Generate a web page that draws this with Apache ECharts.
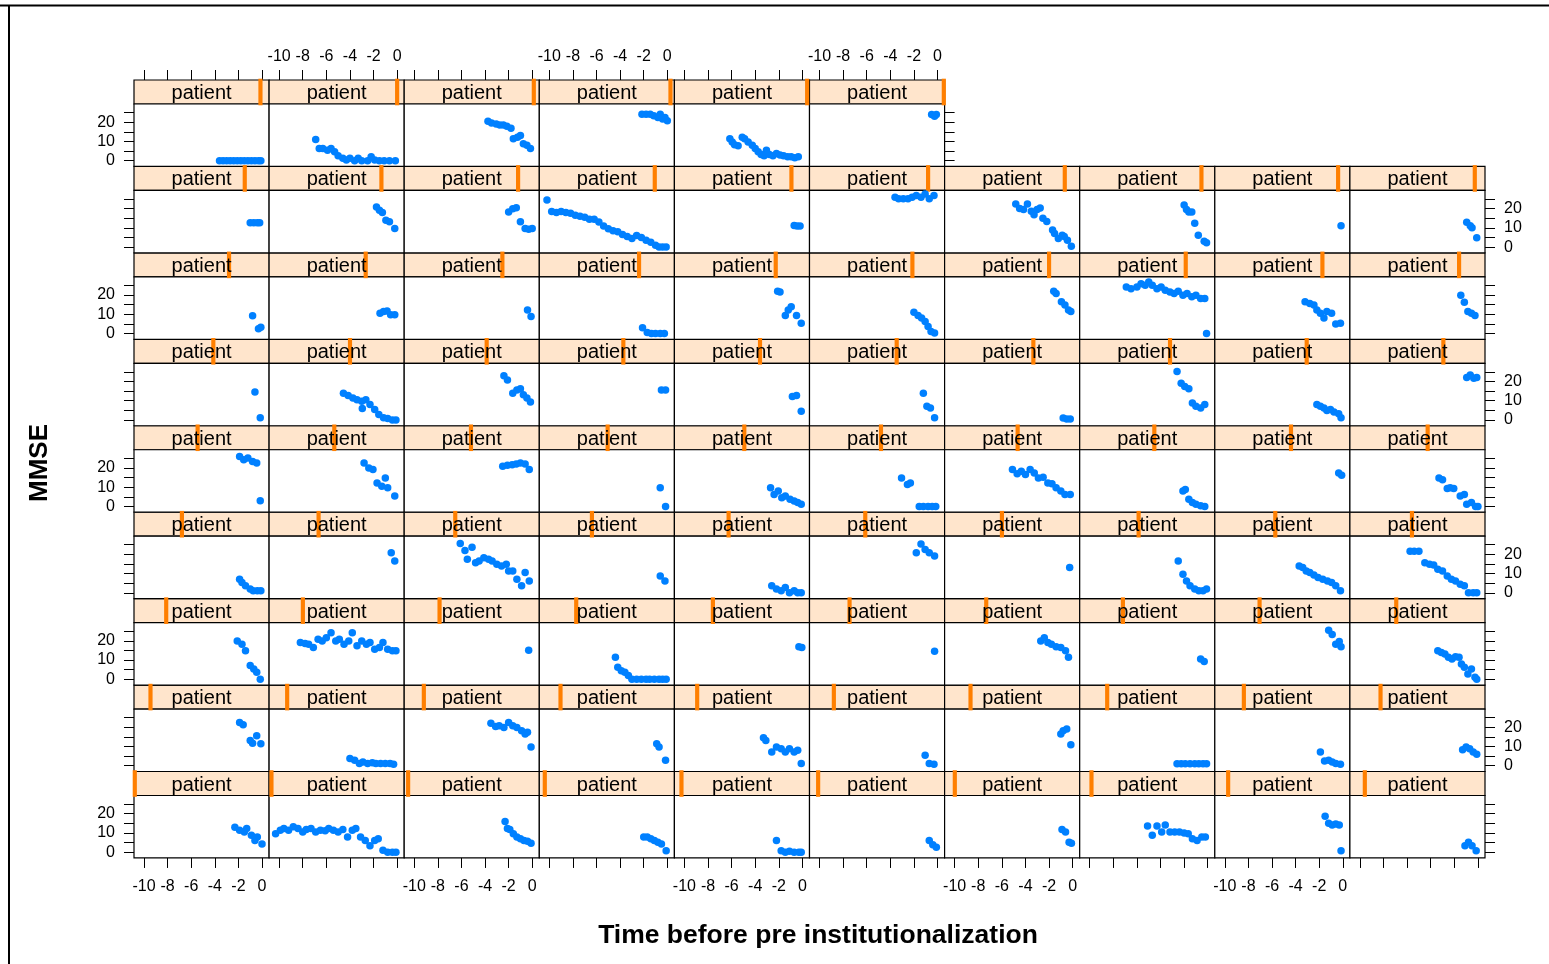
<!DOCTYPE html>
<html>
<head>
<meta charset="utf-8">
<script src="https://cdn.jsdelivr.net/npm/echarts@6/dist/echarts.min.js"></script>
<style>
html,body{margin:0;padding:0;background:#fff;}
#chart{width:1549px;height:964px;}
</style>
</head>
<body>
<div id="chart"></div>
<script>
// ---- data: one entry per patient level (1..86), lattice order (bottom-left first) ----
const timeByPatient = [
 [-2.3,-1.9,-1.5,-1.3,-0.9,-0.6,-0.4,0.0],
 [-10.3,-9.9,-9.6,-9.2,-8.8,-8.4,-8.0,-7.7,-7.3,-6.9,-6.5,-6.1,-5.8,-5.4,-5.0,-4.6,-4.2,-3.8,-3.5,-3.1,-2.7,-2.3,-1.9,-1.6,-1.2,-0.8,-0.4,-0.1],
 [-2.3,-2.1,-1.9,-1.6,-1.3,-1.0,-0.7,-0.4,-0.1],
 [-2.0,-1.7,-1.4,-1.1,-0.8,-0.5,-0.1],
 [-2.2,-1.8,-1.45,-1.1,-0.7,-0.3,-0.1],
 [-0.7,-0.4,-0.1],
 [-0.9,-0.6,-0.3,-0.1],
 [-5.1,-4.7,-4.3,-3.9,-3.6,-3.2,-2.8,-2.4,-2.0,-1.65,-1.3,-0.9,-0.5,-0.2],
 [-1.5,-1.2,-0.9,-0.6,-0.3,-0.15],
 [-1.1,-0.8,-0.5,-0.15],
 [-1.9,-1.6,-1.0,-0.8,-0.45,-0.1],
 [-4.0,-3.6,-3.2,-2.9,-2.5,-2.1,-1.8,-1.4,-1.0,-0.6,-0.3],
 [-3.5,-3.1,-2.8,-2.4,-2.0,-1.65,-1.3,-0.9,-0.6,-0.4,-0.1],
 [-0.9,-0.7,-0.15],
 [-3.3,-3.1,-2.6,-2.2,-1.8,-1.45,-1.1,-0.7,-0.4,-0.1],
 [-1.05,-0.7,-0.3],
 [-1.0,-0.8,-0.5,-0.15],
 [-2.6,-2.25,-1.9,-1.5,-1.1,-0.75,-0.4,-0.1],
 [-1.9,-1.55,-1.2,-0.9,-0.6,-0.2],
 [-1.3,-1.0,-0.7,-0.4,-0.1],
 [-2.1,-1.7,-1.4,-1.0,-0.7,-0.45,-0.15],
 [-8.2,-7.8,-7.5,-7.1,-6.7,-6.35,-6.0,-5.6,-5.2,-4.9,-4.5,-4.1,-3.8,-3.4,-3.0,-2.6,-2.3,-1.9,-1.5,-1.2,-0.8,-0.4,-0.1],
 [-0.3],
 [-4.4,-4.2,-3.9,-3.6,-3.3,-3.0,-2.6,-2.2,-1.8,-1.5,-1.1,-0.7,-0.4,-0.1],
 [-0.3,-0.05],
 [-0.25],
 [-2.7,-2.4,-2.1,-1.8,-1.4,-1.0,-0.6,-0.35],
 [-0.6,-0.3],
 [-1.2,-0.9,-0.6,-0.3,-0.15],
 [-3.4,-3.1,-2.8,-2.5,-2.2,-1.9,-1.6,-1.4,-1.15,-0.85,-0.55,-0.25,-0.1],
 [-1.9,-1.7,-1.4,-1.0,-0.75,-0.4,-0.1],
 [-0.5,-0.2],
 [-6.1,-5.7,-5.5,-5.1,-4.8,-4.5,-4.1,-3.7,-3.4,-3.0,-2.6,-2.2,-2.0,-1.65,-1.3,-0.9,-0.6,-0.25],
 [-0.6,-0.2],
 [-2.6,-2.2,-1.8,-1.45,-1.1,-0.7,-0.4,-0.1],
 [-1.8,-1.4,-1.05,-0.7,-0.25],
 [-0.25],
 [-2.5,-2.1,-1.8,-1.5,-1.1,-0.75,-0.4,-0.1],
 [-3.7,-3.4,-3.1,-2.8,-2.45,-2.1,-1.7,-1.3,-0.95,-0.6,-0.2],
 [-5.75,-5.4,-5.0,-4.5,-4.1,-3.75,-3.4,-3.0,-2.6,-2.25,-1.9,-1.5,-1.15,-0.8,-0.4,-0.1],
 [-1.9,-1.55,-1.2,-0.8,-0.45,-0.15],
 [-2.8,-2.4,-2.05,-1.7,-1.3,-1.0,-0.8,-0.2],
 [-2.5,-2.1,-1.7,-1.35,-1.0,-0.6,-0.25],
 [-0.6,-0.15],
 [-2.7,-2.4,-2.05,-1.75,-1.45,-1.05,-0.7,-0.4,-0.1],
 [-3.05,-2.55,-2.3,-1.55,-1.2,-0.8,-0.45,-0.15],
 [-5.1,-4.7,-4.35,-4.0,-3.6,-3.25,-2.9,-2.5,-2.1,-1.75,-1.4,-1.0,-0.65,-0.2],
 [-2.1,-1.9,-1.6,-1.3,-1.0,-0.6,-0.25],
 [-0.35,-0.1],
 [-3.3,-3.0,-2.6,-2.35,-2.05,-1.5,-1.15,-0.95,-0.55,-0.2,0.0],
 [-0.6,-0.15],
 [-4.55,-4.15,-3.75,-3.4,-3.0,-2.95,-2.65,-2.3,-1.9,-1.55,-1.15,-0.8,-0.4,-0.1],
 [-2.4,-2.1,-1.65,-1.3,-1.0,-0.75,-0.45,-0.15],
 [-0.5,-0.15],
 [-0.85,-0.5,-0.1],
 [-1.2,-0.9,-0.6,-0.25],
 [-0.8,-0.5,-0.2],
 [-2.6,-2.25,-1.95,-1.6,-1.3,-1.0,-0.6,-0.25],
 [-2.2,-1.9,-1.6,-1.35,-1.05,-0.75,-0.35,-0.15],
 [-0.95,-0.65,-0.35,-0.1],
 [-0.8,-0.3,-0.1],
 [-1.45,-1.15,-0.85,-0.55,-0.2],
 [-0.4,-0.1],
 [-2.1,-1.7,-1.35,-1.0,-0.6,-0.25],
 [-2.1,-1.9,-1.45,-1.2,-0.95,-0.5,-0.1],
 [-2.0,-1.65,-1.35,-1.05,-0.8,-0.55,-0.25],
 [-1.6,-1.4,-0.95,-0.65,-0.35,-0.15],
 [-6.9,-6.5,-6.0,-5.65,-5.3,-5.0,-4.7,-4.3,-3.95,-3.6,-3.2,-2.85,-2.5,-2.1,-1.75,-1.35,-1.0,-0.6,-0.25,-0.1],
 [-3.2,-2.8,-2.45,-2.2,-1.9,-1.6,-1.35,-0.95,-0.6,-0.2],
 [-1.45,-1.15,-0.85,-0.55,-0.25],
 [-1.0,-0.7,-0.4,-0.2],
 [-1.75,-1.5,-1.25,-0.95,-0.65,-0.2],
 [-2.0,-1.65,-1.35,-1.0,-0.6,-0.3,0.0],
 [-10.2,-9.8,-9.4,-9.0,-8.6,-8.2,-7.8,-7.4,-7.0,-6.6,-6.2,-5.8,-5.4,-5.0,-4.6,-4.2,-3.8,-3.4,-3.0,-2.6,-2.2,-1.8,-1.4,-1.0,-0.7,-0.4,-0.1],
 [-0.7,-0.45,-0.2],
 [-3.6,-3.3,-2.9,-2.5,-2.15,-1.8,-1.4,-1.05,-0.7,-0.3],
 [-4.82,-4.49,-4.16,-3.83,-3.5,-3.27,-3.01,-2.75,-2.52,-2.19,-1.7,-1.53,-1.21,-0.88,-0.71,-0.44,-0.11],
 [-2.0,-1.8,-1.6,-1.35,-1.1,-0.8,-0.3,-0.1],
 [-0.15],
 [-0.95,-0.65,-0.5,-0.1],
 [-3.6,-3.3,-3.0,-2.7,-2.4,-2.1,-1.8,-1.5,-1.2,-0.9,-0.6,-0.3,-0.1],
 [-6.9,-6.6,-6.3,-5.9,-5.6,-5.3,-5.0,-4.6,-4.3,-4.0,-3.6,-3.3,-3.0,-2.5,-2.2,-1.9,-1.5,-1.1,-0.65,-0.15],
 [-3.75,-3.45,-3.05,-2.75,-2.45,-2.15,-1.8,-1.6,-1.25,-1.0,-0.75,-0.45,-0.15],
 [-2.15,-1.8,-1.45,-1.15,-0.8,-0.6,-0.4,-0.2,0.0],
 [-6.15,-5.95,-5.75,-5.45,-5.1,-4.9,-4.6,-4.25,-4.0,-3.75,-3.5,-3.25,-3.05,-2.8,-2.5,-2.2,-1.9,-1.6,-1.25,-0.95,-0.65,-0.35],
 [-0.5,-0.25,-0.1]
];
const mmseByPatient = [
 [12.9,11.4,10.5,12.3,8.8,6.1,7.9,4.3],
 [9.6,11.4,12.3,11.4,13.2,12.3,10.5,11.8,12.3,10.5,11.4,11.1,12.3,11.4,10.5,11.8,7.9,11.4,12.3,7.9,6.1,3.4,6.1,7.0,1,0,0,0],
 [15.9,12.3,11.8,9.6,7.9,7.0,6.1,5.7,4.6],
 [7.9,7.9,7.0,6.1,5.2,4.3,0.7],
 [6.1,0.7,0,0.5,0,0,0],
 [6.1,3.9,2.5],
 [11.8,10.5,5.2,4.6],
 [13.6,8.8,13.6,10.5,14.1,10.5,10.5,10.5,10.0,9.6,7.0,6.1,7.9,7.9],
 [18.6,15.0,14.1,14.6,14.1,0.7],
 [3.4,5.2,3.4,0.7],
 [22.5,21.3,13.1,11.7,15.6,11.4],
 [3.7,2.8,1.1,2.0,1.1,1.5,1.1,1.1,1.1,1.1,0.8],
 [22,20.3,20.8,19.9,22.5,20.8,19.9,18.2,16.5,17.4,9.7],
 [11.4,9.7,2.8],
 [14.5,13.1,7.1,9.7,8.8,7.1,8.8,7.1,8.0,1.1],
 [5.4,1.1,0.8],
 [16.5,18.2,19.1,10.9],
 [1,1,1,1,1,1,1,1],
 [7.1,2.5,2.8,2.0,1.1,0.8],
 [8.3,9.7,8.8,7.1,5.9],
 [19.9,18.2,14.8,7.1,5.4,3.7,0],
 [19.1,18.6,18.2,16.5,20.8,19.9,21.6,24.2,19.9,20.8,18.2,19.9,24.2,17.4,19.9,18.2,19.1,15.6,16.5,19.1,15.6,14.8,14.8],
 [15.1],
 [11.4,6.2,4.5,3.7,2.0,0,0,0,0,0,0,0,0,0],
 [16.9,16.5],
 [14.5],
 [19.9,21.6,19.1,18.2,16.9,16.5,14.8,11.4],
 [10.5,9.3],
 [25.4,23.3,18.2,19.6,16.9],
 [14.8,13.9,13.1,11.4,10.5,11.7,11.4,8.0,6.2,2.8,5.4,1.1,0],
 [7.1,5.4,3.7,2.0,1.1,1.1,1.1],
 [20.8,16.5],
 [25.6,22,17.4,23.7,15.6,16.5,18.2,17.4,16.5,14.8,13.9,14.8,11.4,11.4,7.1,3.7,10.5,6.2],
 [8.8,6.2],
 [3.7,2.0,1.1,2.8,0,1.1,0,0],
 [20.8,25.4,22.5,20.8,19.1],
 [13.1],
 [16.5,9.7,6.2,3.7,2.0,1.1,1.1,2.0],
 [13.9,13.1,11.4,10.5,9.3,8.0,7.1,6.2,5.4,3.7,1.1],
 [21.6,21.6,21.6,15.6,14.8,14.5,12.2,11.4,8.8,7.1,6.2,4.5,3.7,0,0,0],
 [25.9,24.2,25.1,23.3,22.5,3.0],
 [22.5,19.9,19.1,12.2,10.5,14.8,9.7,5.4],
 [20.8,21.3,21.6,22,22.5,22,19.1],
 [9.7,0],
 [9.7,6.2,8.0,4.5,5.4,3.7,2.8,2.0,1.1],
 [14.8,11.4,12.2,0,0,0,0,0],
 [19.1,16.9,18.2,16.5,19.1,17.4,14.8,15.1,12.2,11.7,9.7,8.0,6.2,6.2],
 [8.0,8.8,3.7,2.0,1.1,0.3,0],
 [17.4,16.2],
 [14.8,13.9,9.3,9.7,9.3,5.4,6.2,1.1,2.0,0,0],
 [14.5,1.1],
 [13.9,12.7,11.4,10.5,9.7,6.0,10.5,8.0,5.4,2.8,1.1,0.8,0,0],
 [23,20.8,13.9,15.6,16.2,13.1,11.4,9.3],
 [15.6,15.6],
 [12.2,12.7,4.5],
 [13.9,7.1,6.2,1.1],
 [1.0,0.5,0.5],
 [25.1,19.1,17.4,16.2,8.8,7.1,6.2,8.0],
 [8.0,7.1,6.2,4.9,5.4,4.2,3.2,1.1],
 [22,23.3,21.6,22],
 [9.2,2.5,3.2],
 [10.5,11.4,11.7,9.7,9.7],
 [12.2,8.8],
 [3.0,0.5,0,0,0,0],
 [22,21.6,9.3,12.2,13.9,9.3,5.4],
 [11,9.3,8.0,6.2,3.7,1.1,0.3],
 [22,20.8,16.5,14.8,12.2,11.4],
 [24.2,23.3,24.2,25.9,25.1,26.8,25.1,23.3,24.2,22.5,21.6,20.8,22.0,19.9,20.8,19.1,19.9,18.2,18.2,0],
 [16.5,15.6,14.8,12.2,10.5,8.0,11.4,10.5,4.9,5.4],
 [19.9,16.2,11.4,10.5,9.3],
 [12.6,12.6,12.6,12.6],
 [20.8,19.1,17.9,13.9,13.1,9.7],
 [18.2,19.9,20.4,13.1,9.7,9.2,9.7],
 [24.5,18.5,18,18.5,18,17.5,16.5,16,15.5,14.5,14.5,13,11,9.5,8.5,8,6.5,5.5,4.5,6,5,3.5,2.5,1,0,0,0],
 [11.2,10.9,10.9],
 [25.9,25.1,25.1,25.1,25.9,26.8,25.9,27.6,25.1,26.8],
 [22.4,20,19.5,22.4,18.6,16.8,19.5,20.3,15,13.3,8.9,7.1,4.4,6.2,5.5,3.6,0.5],
 [21.8,19.5,18.2,18.2,12.4,6.2,3.0,2.3],
 [11.1],
 [12.9,11.1,10.1,4.8],
 [0,0,0,0,0,0,0,0,0,0,0,0,0],
 [11,6.3,6.3,5.4,6.3,4.6,2.6,1.2,0.3,1.2,0,1.2,0,0,2,0.3,0,0,0,0],
 [20.4,19.6,19,18.5,18.5,17.9,16.8,11.4,12.2,13.1,8.8,8,6.3],
 [24.1,24.1,24.1,23.3,22.4,24.1,21.6,22.4,20.7],
 [11.4,9.7,8.3,7.7,12.2,11.4,9.7,8,6.3,4.6,3.2,2.6,5.4,3.2,2.6,3.7,2.9,2.6,2,2,1.5,2],
 [24,23,24]
];
const stripLabel = 'patient';
const xTickValues = [-10, -8, -6, -4, -2, 0];
const yTickValues = [0, 5, 10, 15, 20, 25];
const yLabelValues = [0, 10, 20];
const xTitle = 'Time before pre institutionalization';
const yTitle = 'MMSE';

// ---- layout ----
const XMIN = -10.85, XMAX = 0.6, YMIN = -3.0, YMAX = 29.4;
const LEFT0 = 134, COLW = 135.1, TOP0 = 80, ROWH = 86.44, STRIPH = 24;
const NLEV = timeByPatient.length;
const FONT = '"Liberation Sans", Arial, Helvetica, sans-serif';
const tickStyle = {color: '#000', width: 1};
const labelStyle = {color: '#000', fontSize: 16, fontFamily: FONT};
const noLine = {show: false, onZero: false};

const grids = [], xAxes = [], yAxes = [], series = [], graphics = [];

for (let i = 0; i < NLEV; i++) {
  const rb = Math.floor(i / 10), col = i % 10, r = 8 - rb;
  const lastCol = rb === 8 ? 5 : 9;
  const left = LEFT0 + col * COLW;
  const stripTop = TOP0 + r * ROWH;
  const panelTop = stripTop + STRIPH;
  const panelH = ROWH - STRIPH;

  // strip grid
  const sg = grids.length;
  grids.push({left: left, top: stripTop, width: COLW, height: STRIPH, show: true,
    backgroundColor: '#ffe5cc', borderColor: '#000', borderWidth: 1.2, outerBoundsMode: 'none'});
  const sx = xAxes.length;
  xAxes.push({gridIndex: sg, type: 'value', min: 0, max: NLEV, show: false, position: 'bottom', axisLine: noLine});
  const sy = yAxes.length;
  yAxes.push({gridIndex: sg, type: 'value', min: 0, max: 1, show: false, axisLine: noLine});
  if (rb === 8) {
    xAxes.push({gridIndex: sg, type: 'value', min: XMIN, max: XMAX, position: 'top',
      axisLine: noLine,
      axisTick: {show: true, inside: false, length: 10, customValues: xTickValues, lineStyle: tickStyle},
      axisLabel: Object.assign({show: col % 2 === 1, margin: 15, customValues: xTickValues}, labelStyle),
      splitLine: {show: false}});
  }
  series.push({type: 'custom', xAxisIndex: sx, yAxisIndex: sy, silent: true, z: 3,
    data: [[i, i + 1]],
    renderItem: function (params, api) {
      const a = api.coord([api.value(0), 1]);
      const b = api.coord([api.value(1), 0]);
      return {type: 'rect', shape: {x: a[0], y: a[1], width: b[0] - a[0], height: b[1] - a[1]},
        style: {fill: '#ff7f00', stroke: '#ff7f00', lineWidth: 2.6}};
    }});
  graphics.push({type: 'text', x: left + COLW / 2, y: stripTop + STRIPH / 2 + 1.5, z: 100,
    style: {text: stripLabel, font: '20px ' + FONT, fill: '#000', textAlign: 'center',
      textVerticalAlign: 'middle', verticalAlign: 'middle'}});

  // panel grid
  const pg = grids.length;
  grids.push({left: left, top: panelTop, width: COLW, height: panelH, show: true,
    backgroundColor: '#fff', borderColor: '#000', borderWidth: 1.2, outerBoundsMode: 'none'});
  const px = xAxes.length;
  xAxes.push({gridIndex: pg, type: 'value', min: XMIN, max: XMAX, position: 'bottom',
    show: rb === 0,
    axisLine: noLine,
    axisTick: {show: true, inside: false, length: 10, customValues: xTickValues, lineStyle: tickStyle},
    axisLabel: Object.assign({show: col % 2 === 0, margin: 21, customValues: xTickValues}, labelStyle),
    splitLine: {show: false}});
  const py = yAxes.length;
  const isLeft = col === 0, isRight = col === lastCol;
  yAxes.push({gridIndex: pg, type: 'value', min: YMIN, max: YMAX,
    position: isLeft ? 'left' : 'right',
    show: isLeft || isRight,
    axisLine: noLine,
    axisTick: {show: true, inside: false, length: 10, customValues: yTickValues, lineStyle: tickStyle},
    axisLabel: Object.assign({show: (isLeft && r % 2 === 0) || (isRight && r % 2 === 1), margin: 19,
      customValues: yLabelValues}, labelStyle),
    splitLine: {show: false}});
  const t = timeByPatient[i], m = mmseByPatient[i];
  series.push({type: 'scatter', xAxisIndex: px, yAxisIndex: py, silent: true, z: 4,
    symbol: 'circle', symbolSize: 7.5,
    itemStyle: {color: '#0080ff', borderWidth: 0, opacity: 1},
    data: t.map((v, j) => [v, m[j]])});
}

// titles and frame
graphics.push({type: 'text', x: 818, y: 936, z: 100,
  style: {text: xTitle, font: 'bold 26.5px ' + FONT, fill: '#000', textAlign: 'center',
    textVerticalAlign: 'middle', verticalAlign: 'middle'}});
graphics.push({type: 'text', x: 40, y: 463, rotation: Math.PI / 2, z: 100,
  style: {text: yTitle, font: 'bold 26px ' + FONT, fill: '#000', textAlign: 'center',
    textVerticalAlign: 'middle', verticalAlign: 'middle'}});
graphics.push({type: 'line', z: 100, shape: {x1: 0, y1: 5.5, x2: 1549, y2: 5.5},
  style: {stroke: '#000', lineWidth: 2}});
graphics.push({type: 'line', z: 100, shape: {x1: 9, y1: 5, x2: 9, y2: 964},
  style: {stroke: '#000', lineWidth: 2}});

const chart = echarts.init(document.getElementById('chart'), null, {renderer: 'canvas'});
chart.setOption({
  animation: false,
  backgroundColor: '#fff',
  grid: grids,
  xAxis: xAxes,
  yAxis: yAxes,
  series: series,
  graphic: graphics
});
</script>
</body>
</html>
